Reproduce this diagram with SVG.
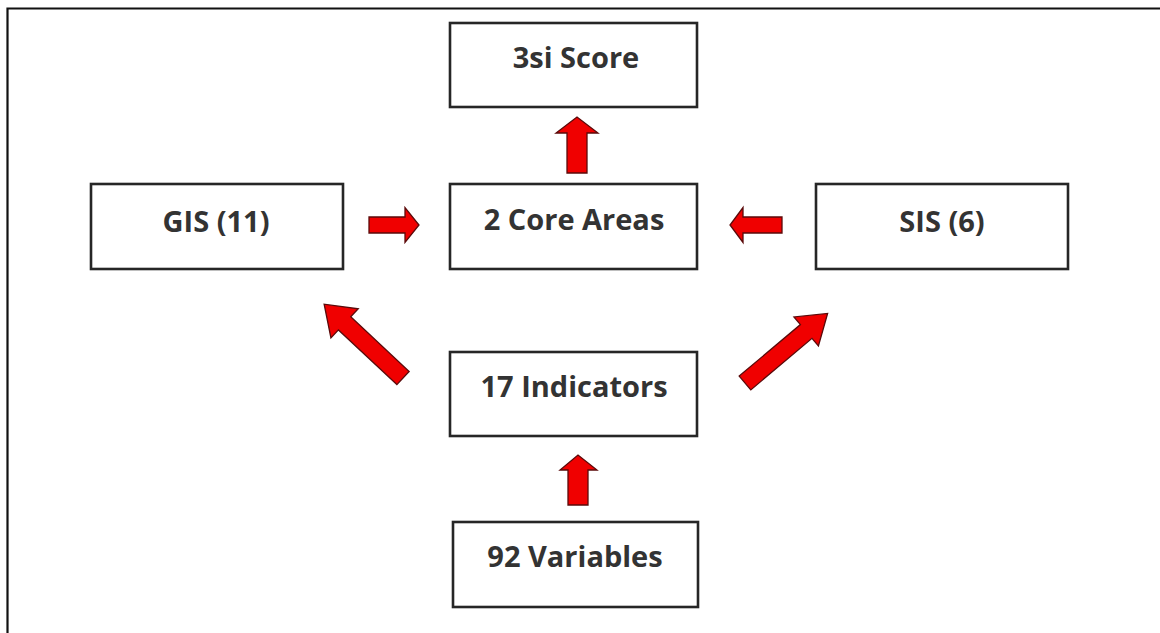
<svg xmlns="http://www.w3.org/2000/svg" width="1160" height="633" viewBox="0 0 1160 633">
<style>
.box{fill:#fff;stroke:#262626;stroke-width:2.6}
.lbl{font-family:"Open Sans","Liberation Sans",sans-serif;font-weight:700;font-size:29px;fill:#333;text-anchor:middle}
.arr{fill:#f00000;stroke:#5a0a0a;stroke-width:1.3;stroke-linejoin:miter}
</style>
<rect width="1160" height="633" fill="#fff"/>
<path d="M7.5 633 V8.5 H1160" fill="none" stroke="#111" stroke-width="2.2"/>
<g id="connectors">
<polygon class="arr" points="567,173 567,133 556,133 577,117 598,133 587,133 587,173"/>
<polygon class="arr" points="568,505 568,470 560,470 578,455 597,470 588,470 588,505"/>
<polygon class="arr" points="369,217 405,217 405,207.5 419,225 405,242.5 405,233 369,233"/>
<polygon class="arr" points="782,217 743,217 743,207.5 730,225 743,242.5 743,233 782,233"/>
<polygon class="arr" transform="translate(403,378) rotate(-136.9)" points="0,-9 80,-9 80,-20 108,0 80,20 80,9 0,9"/>
<polygon class="arr" transform="translate(745,383) rotate(-40.1)" points="0,-9 80,-9 80,-19 108,0 80,19 80,9 0,9"/>
</g>
<g id="score"><rect class="box" x="450" y="23" width="247" height="84"/><text class="lbl" x="576" y="68">3si Score</text></g>
<g id="gis"><rect class="box" x="91" y="184" width="252" height="85"/><text class="lbl" x="216" y="232">GIS (11)</text></g>
<g id="core"><rect class="box" x="450" y="184" width="247" height="85"/><text class="lbl" x="574" y="230">2 Core Areas</text></g>
<g id="sis"><rect class="box" x="816" y="184" width="252" height="85"/><text class="lbl" x="942" y="232">SIS (6)</text></g>
<g id="indicators"><rect class="box" x="450" y="352" width="247" height="84"/><text class="lbl" x="574" y="397">17 Indicators</text></g>
<g id="variables"><rect class="box" x="453" y="522" width="245" height="85"/><text class="lbl" x="575" y="567">92 Variables</text></g>
</svg>
